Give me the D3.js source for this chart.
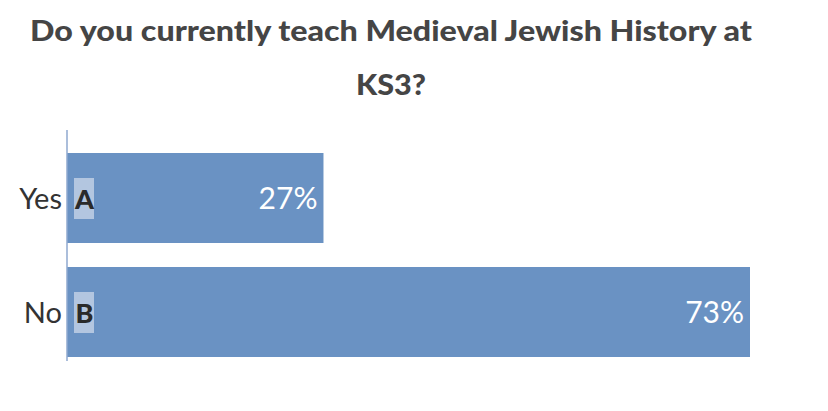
<!DOCTYPE html>
<html><head><meta charset="utf-8">
<script src="https://cdn.jsdelivr.net/npm/d3@7"></script>
<style>body{margin:0;background:#fff}svg{display:block}</style>
</head><body>
<svg id="c" width="828" height="411"></svg>
<script>
const titleLines = ["Do you currently teach Medieval Jewish History at", "KS3?"];
const categories = ["Yes", "No"];
const letters = ["A", "B"];
const values = [27.3, 72.7];

const svg = d3.select("#c");
const font = "Lato, 'Open Sans', sans-serif";

svg.selectAll("text.title").data(titleLines).join("text")
  .attr("class","title")
  .attr("x", 391).attr("y", (d,i)=> i===0 ? 41 : 95)
  .attr("text-anchor","middle")
  .attr("font-family", font).attr("font-weight", 900)
  .attr("font-size", 29).attr("fill", "#454545")
  .attr("textLength", (d,i)=> i===0 ? 722 : 70)
  .attr("lengthAdjust","spacingAndGlyphs")
  .text(d=>d);

const x = d3.scaleLinear().domain([0, 72.7]).range([67, 750]);
const y = d3.scaleBand().domain(categories).range([141.6, 368.4]).paddingInner(0.2105).paddingOuter(0.1);

const data = categories.map((c,i)=>({cat:c, letter:letters[i], v:values[i]}));
const fmt = d3.format(".0f");

svg.selectAll("rect.bar").data(data).join("rect")
  .attr("class","bar")
  .attr("x", x(0)).attr("y", d=>y(d.cat))
  .attr("width", d=>x(d.v)-x(0)).attr("height", y.bandwidth())
  .attr("fill", "#6a92c3");

const yAxis = d3.axisLeft(y).tickSize(0).tickFormat("");
svg.append("g").attr("transform", `translate(${x(0)},0)`).call(yAxis)
  .call(g=>g.select(".domain").attr("stroke","#8fa9cf").attr("stroke-width",1.5)
    .attr("d", "M0,130V361"));

svg.selectAll("text.cat").data(data).join("text")
  .attr("class","cat")
  .attr("x", 62).attr("y", d=>y(d.cat)+y.bandwidth()/2+11)
  .attr("text-anchor","end")
  .attr("font-family", font).attr("font-size", 29).attr("fill","#333")
  .text(d=>d.cat);

svg.selectAll("rect.lbox").data(data).join("rect")
  .attr("class","lbox")
  .attr("x", 74).attr("y", d=>y(d.cat)+y.bandwidth()/2-20)
  .attr("width", 20).attr("height", 41)
  .attr("fill", "#b3c6e0");

svg.selectAll("text.letter").data(data).join("text")
  .attr("class","letter")
  .attr("x", 84.5).attr("y", d=>y(d.cat)+y.bandwidth()/2+11)
  .attr("text-anchor","middle")
  .attr("font-family", font).attr("font-weight", 900)
  .attr("font-size", 27).attr("fill","#2a2a2a")
  .text(d=>d.letter);

svg.selectAll("text.val").data(data).join("text")
  .attr("class","val")
  .attr("x", d=>x(d.v)-6).attr("y", d=>y(d.cat)+y.bandwidth()/2+11)
  .attr("text-anchor","end")
  .attr("font-family", font).attr("font-size", 30).attr("fill","#fff")
  .text(d=>fmt(d.v)+"%");
</script>
</body></html>
